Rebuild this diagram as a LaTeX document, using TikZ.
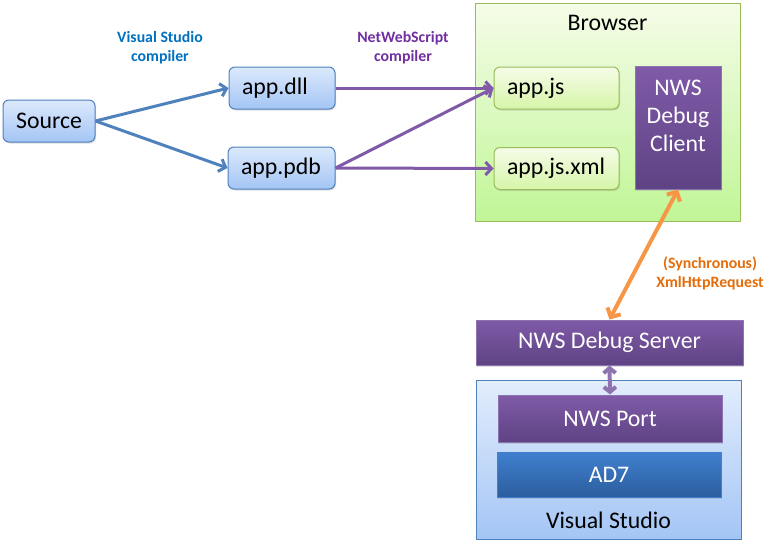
\documentclass[tikz,border=0pt]{standalone}
\usepackage{fontspec}
\setmainfont{Carlito}
\usetikzlibrary{arrows.meta,shadows}
\definecolor{bluedraw}{RGB}{79,129,189}
\definecolor{bluetop}{RGB}{220,233,252}
\definecolor{bluebot}{RGB}{164,197,245}
\definecolor{greendraw}{RGB}{155,187,89}
\definecolor{greentop}{RGB}{245,252,232}
\definecolor{greenbot}{RGB}{214,245,168}
\definecolor{purpdraw}{RGB}{141,115,176}
\definecolor{purptop}{RGB}{128,90,168}
\definecolor{purpbot}{RGB}{94,67,132}
\definecolor{ad7top}{RGB}{63,128,207}
\definecolor{ad7bot}{RGB}{44,94,158}
\definecolor{orangeline}{RGB}{247,150,70}
\definecolor{labblue}{RGB}{0,112,192}
\definecolor{labpurp}{RGB}{112,48,160}
\definecolor{laborange}{RGB}{228,108,10}

\begin{document}
\begin{tikzpicture}[x=1pt,y=-1pt,
    big/.style={font=\fontsize{23.8}{28}\selectfont},
    small/.style={font=\fontsize{15.8}{19}\selectfont\bfseries, align=center},
    bluebox/.style={big, draw=bluedraw, line width=1pt, rounded corners=6pt,
      top color=bluetop, bottom color=bluebot, minimum height=42pt,
      drop shadow={shadow xshift=1pt, shadow yshift=-1.5pt, opacity=0.25}},
    greenbox/.style={big, draw=greendraw, line width=1pt, rounded corners=6pt,
      top color=greentop, bottom color=greenbot, minimum height=42pt, align=left,
      inner xsep=13pt, drop shadow={shadow xshift=1pt, shadow yshift=-1.5pt, opacity=0.25}},
    purpbox/.style={big, text=white, draw=purpdraw, line width=1pt,
      top color=purptop, bottom color=purpbot,
      drop shadow={shadow xshift=1pt, shadow yshift=-1.5pt, opacity=0.25}},
    blueline/.style={draw=bluedraw, line width=3pt, -{Straight Barb[length=6pt,width=13pt]}},
    purpline/.style={draw=purptop, line width=3pt, -{Straight Barb[length=6pt,width=13pt]}},
  ]
    \useasboundingbox (0,0) rectangle (770,546);
    \node[draw=greendraw, line width=1pt, top color=greentop, bottom color=greenbot!90!green,
      minimum width=265pt, minimum height=218pt] (browser) at (607.5,112) {};
    \node[big] (browsertxt) at (607.5,23) {Browser};
    \node[draw=bluedraw, line width=1pt, top color=bluetop!80!white, bottom color=bluebot,
      minimum width=265pt, minimum height=159pt] (vs) at (608.5,459.5) {};
    \node[big] (vstxt) at (608.5,520) {Visual Studio};

    \node[bluebox, minimum width=92pt] (src) at (49,121) {Source};
    \node[bluebox, minimum width=106pt, text width=80pt, align=left, inner xsep=13pt] (dll) at (282,88) {app.dll};
    \node[bluebox, minimum width=107pt, text width=81pt, align=left, inner xsep=13pt] (pdb) at (281.5,168) {app.pdb};
    \node[greenbox, text width=99pt] (js) at (556.5,88) {app.js};
    \node[greenbox, text width=99pt] (jsxml) at (556.5,168.5) {app.js.xml};
    \node[purpbox, minimum width=86pt, minimum height=123pt] (client) at (678,127.5) {};
    \node[big, text=white, align=center] (clienttxt) at (678,116) {NWS\\Debug\\Client};
    \node[purpbox, minimum width=267pt, minimum height=45pt] (server) at (609.5,342.5) {NWS Debug Server};
    \node[purpbox, minimum width=224pt, minimum height=47pt] (port) at (610,418.5) {NWS Port};
    \node[purpbox, draw=ad7top, top color=ad7top, bottom color=ad7bot,
      minimum width=224pt, minimum height=45pt] (ad7) at (609,474.5) {AD7};

    \node[small, text=labblue] (vscomp) at (160,48) {Visual Studio\\compiler};
    \node[small, text=labpurp] (nwscomp) at (403,48) {NetWebScript\\compiler};
    \node[small, text=laborange] (xhr) at (710,273) {(Synchronous)\\XmlHttpRequest};

    \draw [blueline] (src.east) -- (dll.west);
    \draw [blueline] (src.east) -- (pdb.west);
    \draw [purpline] (dll.east) -- (js.west);
    \draw [purpline] (pdb.east) -- (js.west);
    \draw [purpline] (pdb.east) -- (jsxml.west);
    \draw [orangeline, line width=4pt, {Straight Barb[length=7pt,width=15pt]}-{Straight Barb[length=7pt,width=15pt]}] (client.south) -- (server.north);
    \draw [purpdraw, line width=4pt, {Straight Barb[length=5pt,width=12pt]}-{Straight Barb[length=5pt,width=12pt]}] (server.south) -- (port.north);
  \end{tikzpicture}
\end{document}
